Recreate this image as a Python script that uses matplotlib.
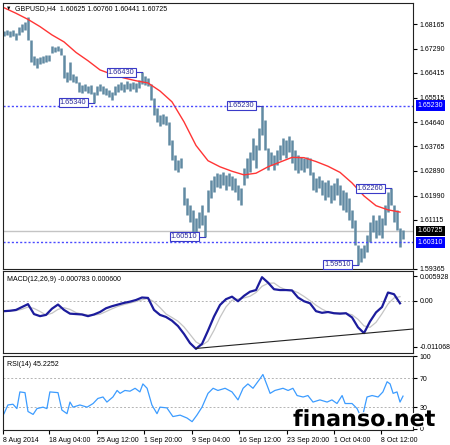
import numpy as np
import pandas as pd
import matplotlib
matplotlib.use("Agg")
import matplotlib.pyplot as plt
import matplotlib.patheffects as pe
from matplotlib.transforms import blended_transform_factory

plt.rcParams['font.family'] = ['Liberation Sans', 'DejaVu Sans']

# ---- price bars (high / low per bar) ----
highs = [1.6792, 1.6796, 1.6792, 1.6796, 1.6785, 1.6807, 1.6818, 1.6825, 1.6843, 1.6760,
         1.6702, 1.6695, 1.6699, 1.6702, 1.6706, 1.6706, 1.6738, 1.6735, 1.6738, 1.6731,
         1.6706, 1.6645, 1.6681, 1.6638, 1.6630, 1.6609, 1.6598, 1.6602, 1.6594, 1.6598,
         1.6573, 1.6594, 1.6602, 1.6594, 1.6587, 1.6580, 1.6573, 1.6594, 1.6602, 1.6609,
         1.6602, 1.6612, 1.6605, 1.6609, 1.6605, 1.6616, 1.6643, 1.6630, 1.6623, 1.6602,
         1.6551, 1.6515, 1.6490, 1.6494, 1.6486, 1.6465, 1.6400, 1.6346, 1.6328, 1.6335,
         1.6231, 1.6191, 1.6166, 1.6148, 1.6119, 1.6141, 1.6166, 1.6130, 1.6220, 1.6256,
         1.6270, 1.6281, 1.6278, 1.6285, 1.6274, 1.6281, 1.6270, 1.6263, 1.6238, 1.6227,
         1.6299, 1.6335, 1.6357, 1.6407, 1.6382, 1.6443, 1.6523, 1.6472, 1.6371, 1.6357,
         1.6346, 1.6364, 1.6382, 1.6407, 1.6400, 1.6414, 1.6400, 1.6364, 1.6346, 1.6339,
         1.6335, 1.6339, 1.6335, 1.6285, 1.6263, 1.6270, 1.6256, 1.6249, 1.6256, 1.6238,
         1.6245, 1.6263, 1.6238, 1.6220, 1.6213, 1.6191, 1.6148, 1.6112, 1.6022, 1.6011,
         1.6022, 1.6058, 1.6105, 1.6130, 1.6112, 1.6130, 1.6119, 1.6166, 1.6213, 1.6226,
         1.6166, 1.6148, 1.6083, 1.6076]
lows = [1.6774, 1.6778, 1.6771, 1.6774, 1.6760, 1.6778, 1.6789, 1.6796, 1.6760, 1.6681,
        1.6670, 1.6659, 1.6674, 1.6677, 1.6681, 1.6684, 1.6713, 1.6717, 1.6720, 1.6706,
        1.6623, 1.6609, 1.6616, 1.6609, 1.6605, 1.6573, 1.6569, 1.6576, 1.6569, 1.6566,
        1.6534, 1.6562, 1.6576, 1.6566, 1.6562, 1.6555, 1.6544, 1.6562, 1.6573, 1.6580,
        1.6573, 1.6584, 1.6576, 1.6584, 1.6573, 1.6587, 1.6602, 1.6598, 1.6594, 1.6544,
        1.6490, 1.6465, 1.6450, 1.6458, 1.6454, 1.6382, 1.6328, 1.6292, 1.6285, 1.6299,
        1.6166, 1.6130, 1.6105, 1.6069, 1.6062, 1.6083, 1.6094, 1.6051, 1.6141, 1.6191,
        1.6213, 1.6231, 1.6227, 1.6238, 1.6220, 1.6234, 1.6220, 1.6213, 1.6184, 1.6166,
        1.6238, 1.6263, 1.6285, 1.6328, 1.6299, 1.6364, 1.6418, 1.6364, 1.6292, 1.6310,
        1.6292, 1.6310, 1.6328, 1.6346, 1.6335, 1.6357, 1.6317, 1.6292, 1.6281, 1.6292,
        1.6285, 1.6299, 1.6274, 1.6220, 1.6213, 1.6227, 1.6202, 1.6184, 1.6195, 1.6173,
        1.6184, 1.6202, 1.6166, 1.6148, 1.6141, 1.6112, 1.6083, 1.6022, 1.5951, 1.5961,
        1.5975, 1.5997, 1.6033, 1.6069, 1.6047, 1.6058, 1.6047, 1.6094, 1.6141, 1.6166,
        1.6105, 1.6076, 1.6015, 1.6044]

# moving average, read every 4th bar
MA_STEP = 4
ma = [1.6876, 1.6856, 1.6834, 1.6808, 1.6778, 1.6753, 1.6715, 1.6685, 1.6652, 1.6636,
      1.6623, 1.6613, 1.6605, 1.6576, 1.6537, 1.6465, 1.6380, 1.6325, 1.6303, 1.6287,
      1.6274, 1.6280, 1.6303, 1.6320, 1.6337, 1.6336, 1.6322, 1.6305, 1.6283, 1.6245,
      1.6198, 1.6163, 1.6148, 1.6140]

# marked levels: (bar, price, text)
marks = [(46, 1.6643, "1.66430"), (30, 1.6534, "1.65340"), (86, 1.6523, "1.65230"),
         (67, 1.6051, "1.60510"), (118, 1.5951, "1.59510"), (129, 1.6226, "1.62260")]
level_lines = [1.6523, 1.6031]
last_price = 1.60725

price_ticks = [1.68165, 1.67290, 1.66415, 1.65515, 1.64640, 1.63765, 1.62890, 1.61990, 1.61115, 1.59365]

# MACD main line, read every 2nd bar
MACD_STEP = 2
macd = [-0.0025, -0.0024, -0.0022, -0.0015, -0.0008, -0.0032, -0.0037, -0.0034, -0.0019, -0.0009,
        -0.0022, -0.0031, -0.0032, -0.0033, -0.0037, -0.0033, -0.0027, -0.0018, -0.0013, -0.0009,
        -0.0005, -0.0002, 0.0002, 0.0008, 0.0007, -0.0022, -0.0034, -0.0039, -0.0048, -0.0061,
        -0.0080, -0.0102, -0.0116, -0.0104, -0.0072, -0.0038, -0.0010, 0.0004, 0.0010, -0.0001,
        0.0012, 0.0022, 0.0026, 0.0057, 0.0044, 0.0028, 0.0026, 0.0026, 0.0025, 0.0008,
        -0.0001, -0.0006, -0.0025, -0.0029, -0.0027, -0.0030, -0.0031, -0.0030, -0.0040, -0.0064,
        -0.0078, -0.0050, -0.0028, -0.0015, 0.0020, 0.0016, -0.0006]
macd_trend_x = [64, 136.5]
macd_trend_y = [-0.0115, -0.0068]

# RSI(14)
rsi_bar = [0, 1.3, 3, 4.3, 5.3, 7, 8, 9.7, 11, 13, 14.3, 15.3, 18, 19.3, 21, 22, 23, 25.3, 27.7, 29.7,
           31.3, 33, 34.3, 36.3, 37.7, 38.7, 40.3, 42, 43.7, 45.3, 46.3, 47.7, 49.3, 51, 52, 54.3,
           56.3, 58.7, 61, 62.7, 64.3, 66, 68, 69.7, 71.3, 73.7, 76, 78, 79.7, 81.3, 83, 85.3,
           86.3, 87.7, 88.7, 90.3, 93, 94.7, 96.3, 97.7, 99.7, 101.3, 103, 105.3, 107.7, 109.3,
           111, 112.7, 113.7, 116, 117.7, 118.7, 119.7, 121, 122.7, 124.7, 126.3, 127.7, 128.7,
           129.7, 131, 132, 133]
rsi_val = [21, 33, 34, 28, 51, 50, 24, 20, 28, 30, 28, 51, 50, 26, 21, 37, 30, 33, 30, 35,
           42, 44, 37, 44, 53, 49, 53, 52, 56, 51, 62, 56, 33, 21, 30, 29, 17, 19, 15, 10,
           19, 30, 49, 56, 53, 56, 51, 40, 56, 62, 56, 69, 75, 60, 49, 53, 56, 53, 56, 46,
           44, 46, 37, 40, 37, 40, 35, 46, 35, 35, 28, 19, 21, 44, 46, 44, 51, 65, 62, 49,
           51, 37, 45.2]

date_ticks = [-0.3, 15.0, 31.0, 46.7, 62.7, 78.3, 94.3, 110.0, 125.7]
date_labels = ["8 Aug 2014", "18 Aug 04:00", "25 Aug 12:00", "1 Sep 20:00", "9 Sep 04:00",
               "16 Sep 12:00", "23 Sep 20:00", "1 Oct 04:00", "8 Oct 12:00"]

BAR = "#618aa3"
LEVEL = "#4a4aff"
MARK = "#3a3ac8"
FS = 5

W, H = 450, 445
fig = plt.figure(figsize=(4.5, 4.45), dpi=100)


def rect(l, t, r, b):
    return [l / W, 1 - b / H, (r - l) / W, (b - t) / H]


ax = fig.add_axes(rect(3, 3, 413, 269))
ax_macd = fig.add_axes(rect(3, 271, 413, 353), sharex=ax)
ax_rsi = fig.add_axes(rect(3, 356, 413, 430), sharex=ax)

# ---- main price panel ----
x = np.arange(len(highs))
ax.vlines(x, lows, highs, color=BAR, lw=1.8)
ax.plot(np.arange(len(ma)) * MA_STEP, ma, color="#ff3535", lw=1)
for lv in level_lines:
    ax.axhline(lv, color=LEVEL, ls=(0, (1.5, 1.5)), lw=1)
ax.axhline(last_price, color="#c4c4c4", lw=1, zorder=0)

for bar, price, txt in marks:
    ax.plot([bar - 2.5, bar], [price, price], color=MARK, lw=0.8)
    ax.text(bar - 2.5, price, txt, ha="right", va="center", fontsize=5.3, color="#2a2a9a",
            bbox=dict(boxstyle="square,pad=0.15", fc="white", ec=MARK, lw=0.8))

ax.set_xlim(-0.33, 136.33)
ax.set_ylim(1.5935, 1.6893)
ax.yaxis.tick_right()
ax.set_yticks(price_ticks)
ax.set_yticklabels([f"{t:.5f}" for t in price_ticks])
ax.tick_params(axis="y", direction="out", length=3, labelsize=FS, pad=2)
ax.tick_params(axis="x", bottom=False, labelbottom=False)

tr = blended_transform_factory(ax.transAxes, ax.transData)
for lv, txt, fc in [(1.6523, "1.65230", "#0000ff"), (1.6031, "1.60310", "#0000ff"),
                    (last_price, "1.60725", "black")]:
    ax.text(1.012, lv, txt, transform=tr, ha="left", va="center", fontsize=FS, color="white",
            bbox=dict(boxstyle="square,pad=0.25", fc=fc, ec="none"), clip_on=False)

ax.text(0.006, 0.978, "\u25bc", transform=ax.transAxes, fontsize=4, va="center", ha="left")
ax.text(0.029, 0.978, "GBPUSD,H4  1.60625 1.60760 1.60441 1.60725", transform=ax.transAxes,
        fontsize=FS, va="center", ha="left")

# ---- MACD panel ----
mx = np.arange(len(macd)) * MACD_STEP
signal = pd.Series(macd).rolling(3, min_periods=1).mean()
ax_macd.axhline(0, color="#b4b4b4", ls=(0, (2, 2)), lw=0.7)
ax_macd.plot(mx, signal, color="#c4c4c4", lw=0.9)
ax_macd.plot(mx, macd, color="#1c1c9c", lw=1.6)
ax_macd.plot(macd_trend_x, macd_trend_y, color="#222222", lw=0.8)
ax_macd.set_ylim(-0.0126, 0.0072)
ax_macd.yaxis.tick_right()
ax_macd.set_yticks([0.005928, 0.0, -0.011068])
ax_macd.set_yticklabels(["0.005928", "0.00", "-0.011068"])
ax_macd.tick_params(axis="y", direction="out", length=3, labelsize=FS, pad=2)
ax_macd.tick_params(axis="x", bottom=False, labelbottom=False)
ax_macd.text(0.01, 0.9, "MACD(12,26,9) -0.000783 0.000600", transform=ax_macd.transAxes,
             fontsize=FS, va="center", ha="left")

# ---- RSI panel ----
for lv in [70, 30]:
    ax_rsi.axhline(lv, color="#b4b4b4", ls=(0, (2, 2)), lw=0.7)
ax_rsi.plot(rsi_bar, rsi_val, color="#3c9cff", lw=0.9)
ax_rsi.set_ylim(-1.5, 100.5)
ax_rsi.yaxis.tick_right()
ax_rsi.set_yticks([100, 70, 30, 0])
ax_rsi.tick_params(axis="y", direction="out", length=3, labelsize=FS, pad=2)
ax_rsi.set_xticks(date_ticks)
ax_rsi.set_xticklabels(date_labels, ha="left")
ax_rsi.tick_params(axis="x", direction="out", length=3, labelsize=FS, pad=2)
ax_rsi.text(0.01, 0.88, "RSI(14) 45.2252", transform=ax_rsi.transAxes,
            fontsize=FS, va="center", ha="left")

for a in (ax, ax_macd, ax_rsi):
    for s in a.spines.values():
        s.set_linewidth(0.8)
        s.set_color("#222222")

fig.text(293 / W, 1 - 426 / H, "finanso.net", fontsize=16, fontweight="bold",
         family="DejaVu Sans", color="black", ha="left", va="baseline",
         path_effects=[pe.withStroke(linewidth=2, foreground="white")])

fig.savefig("out.png", dpi=100)
